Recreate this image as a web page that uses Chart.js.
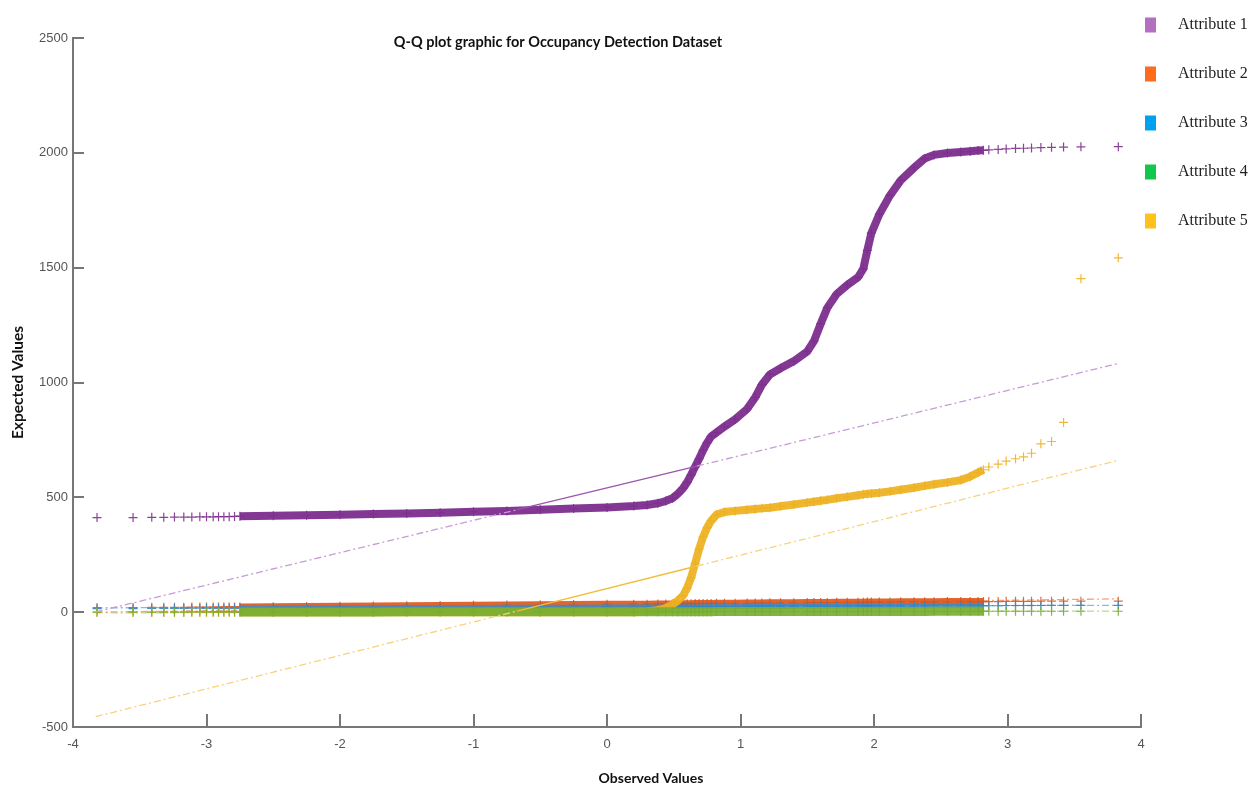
<!DOCTYPE html>
<html>
<head>
<meta charset="utf-8">
<title>Q-Q plot graphic for Occupancy Detection Dataset</title>
<script src="https://cdn.jsdelivr.net/npm/chart.js@4.4.1/dist/chart.umd.min.js"></script>
<style>
  html, body { margin: 0; padding: 0; background: #fff; }
  #wrap { width: 1250px; height: 787px; }
</style>
</head>
<body>
<div id="wrap"><canvas id="qq"></canvas></div>
<script>
// theoretical normal quantiles, shared by all attributes (same number of rows)
const normalQ = [
  -3.82, -3.55, -3.41, -3.32, -3.24, -3.17, -3.11, -3.05, -3.00, -2.95, -2.91, -2.87, -2.83, -2.79,
  -2.75, -2.5, -2.25, -2.0, -1.75, -1.5, -1.25, -1.0, -0.75, -0.5, -0.25, 0,
  0.2, 0.3, 0.38, 0.44, 0.49, 0.53, 0.57, 0.6, 0.63, 0.66,
  0.69, 0.72, 0.75, 0.78, 0.82, 0.88, 0.96, 1.05, 1.11, 1.16,
  1.22, 1.3, 1.4, 1.5, 1.55, 1.6, 1.65, 1.72, 1.8, 1.88,
  1.92, 1.95, 1.98, 2.04, 2.12, 2.2, 2.3, 2.38, 2.45, 2.55,
  2.65, 2.72, 2.78, 2.82,
  2.86, 2.93, 2.99, 3.06, 3.12, 3.18, 3.25, 3.33, 3.42, 3.55, 3.83
];

// sample quantiles per attribute
const attr1 = [
  412, 412, 413, 413, 414, 414, 414, 415, 415, 415, 416, 416, 416, 417,
  418, 420, 422, 424, 427, 430, 433, 437, 441, 446, 451, 456,
  462, 467, 474, 484, 496, 515, 540, 565, 598, 633,
  668, 705, 738, 765, 782, 808, 840, 885, 935, 990,
  1035, 1062, 1093, 1135, 1180, 1255, 1325, 1385, 1425, 1458,
  1495, 1575, 1650, 1733, 1815, 1880, 1935, 1975, 1991, 1999,
  2004, 2007, 2010, 2011,
  2013, 2015, 2017, 2019, 2020, 2021, 2023, 2024, 2025, 2026, 2027
];
const attr2 = [
  20, 20, 21, 21, 21, 21, 22, 22, 22, 22, 22, 23, 23, 23,
  23, 24, 25, 26, 27, 28, 29, 30, 31, 32, 33, 34,
  35, 35, 36, 36, 36, 37, 37, 37, 37, 38,
  38, 38, 38, 38, 39, 39, 39, 40, 40, 40,
  41, 41, 41, 42, 42, 42, 42, 43, 43, 43,
  43, 44, 44, 44, 44, 45, 45, 45, 45, 46,
  46, 46, 46, 46,
  46, 46, 47, 47, 47, 47, 48, 48, 48, 48, 48
];
const attr3 = [
  15, 15, 16, 16, 16, 16, 17, 17, 17, 17, 17, 17, 18, 18,
  18, 18, 19, 19, 19, 20, 20, 20, 21, 21, 21, 22,
  22, 22, 22, 22, 23, 23, 23, 23, 23, 23,
  23, 23, 24, 24, 24, 24, 24, 25, 25, 25,
  25, 25, 25, 26, 26, 26, 26, 26, 26, 27,
  27, 27, 27, 27, 27, 27, 27, 28, 28, 28,
  28, 28, 28, 28,
  28, 28, 29, 29, 29, 29, 29, 30, 30, 30, 30
];
const attr4 = [
  0, 0, 0, 0, 0, 0, 1, 1, 1, 1, 1, 1, 1, 1,
  1, 1, 1, 1, 1, 2, 2, 2, 2, 2, 2, 2,
  2, 2, 2, 2, 2, 2, 2, 2, 2, 2,
  2, 2, 2, 2, 3, 3, 3, 3, 3, 3,
  3, 3, 3, 3, 3, 3, 3, 3, 3, 3,
  3, 3, 3, 3, 3, 3, 3, 3, 4, 4,
  4, 4, 4, 4,
  4, 4, 4, 4, 4, 4, 4, 4, 4, 4, 4
];
const attr5 = [
  0, 0, 0, 0, 0, 0, 0, 0, 0, 0, 0, 0, 0, 0,
  0, 0, 0, 0, 0, 0, 0, 0, 0, 0, 0, 0,
  0, 3, 8, 18, 33, 50, 72, 105, 150, 212,
  275, 328, 368, 398, 424, 436, 441, 446, 449, 452,
  455, 461, 469, 477, 481, 485, 489, 496, 502, 509,
  513, 515, 517, 520, 526, 533, 542, 550, 557, 565,
  575, 590, 608, 620,
  632, 645, 658, 668, 676, 692, 733, 743, 826, 1452, 1543
];

// reference lines: min, first quartile, third quartile, max of the normal axis
const fitQ = [-3.83, -0.674, 0.674, 3.83];
const fit1 = [1, 446, 636, 1083];
const fit2 = [0, 24, 34, 58];
const fit3 = [19, 23.5, 25.5, 30];
const fit4 = [-3, 0, 2, 5];
const fit5 = [-455, 5, 201, 661];

const attrNames = ['Attribute 1', 'Attribute 2', 'Attribute 3', 'Attribute 4', 'Attribute 5'];
const legendColors = ['#B36FC0', '#FF6B1C', '#00A2F0', '#12C84A', '#FDC31C'];

const yTicks = [-500, 0, 500, 1000, 1500, 2000, 2500];
const xTicks = [-4, -3, -2, -1, 0, 1, 2, 3, 4];

// points between these indexes are packed so tightly they read as a solid band
const denseFrom = 14, denseTo = 69;

function toPoints(xs, ys) {
  return xs.map((x, i) => ({ x: x, y: ys[i] }));
}

function qqSet(ys, mark, band, width) {
  return {
    data: toPoints(normalQ, ys),
    showLine: true,
    borderColor: band,
    borderWidth: width,
    segment: {
      borderColor: c => (c.p0DataIndex >= denseFrom && c.p1DataIndex <= denseTo) ? band : 'transparent'
    },
    pointStyle: 'cross',
    pointRadius: 4.5,
    pointHoverRadius: 4.5,
    pointBorderColor: mark,
    pointBorderWidth: 1.2
  };
}

function fitSet(ys, dashColor, solidColor) {
  return {
    data: toPoints(fitQ, ys),
    showLine: true,
    pointRadius: 0,
    pointHoverRadius: 0,
    borderWidth: 1.3,
    borderColor: dashColor,
    borderDash: [7, 3, 2, 3],
    segment: {
      borderDash: c => c.p0DataIndex === 1 ? [] : undefined,
      borderColor: c => c.p0DataIndex === 1 ? solidColor : undefined
    }
  };
}

// title, x axis label and legend
const annotations = {
  id: 'annotations',
  afterDraw(chart) {
    const ctx = chart.ctx;
    const area = chart.chartArea;
    ctx.save();
    ctx.fillStyle = '#111';
    ctx.textBaseline = 'middle';
    ctx.textAlign = 'center';
    ctx.font = 'bold 14.5px Lato';
    ctx.fillText('Q-Q plot graphic for Occupancy Detection Dataset', 558, 42);
    ctx.font = 'bold 14px Lato';
    ctx.fillText('Observed Values', 651, 778);

    ctx.textAlign = 'left';
    ctx.font = '16px "Liberation Serif", "DejaVu Serif", serif';
    attrNames.forEach((name, i) => {
      const cy = 25 + i * 49;
      ctx.fillStyle = legendColors[i];
      ctx.fillRect(area.right + 4, cy - 7.5, 11, 15);
      ctx.fillStyle = '#222';
      ctx.fillText(name, area.right + 37, cy);
    });
    ctx.restore();
  }
};

const tickFont = { family: '"Liberation Sans", Arial, sans-serif', size: 13 };

new Chart(document.getElementById('qq'), {
  type: 'scatter',
  data: {
    datasets: [
      fitSet(fit1, '#C89BD8', '#9A56AE'),
      fitSet(fit5, '#F8D27C', '#F1BD3A'),
      qqSet(attr1, 'rgba(126,47,142,0.9)', 'rgba(122,42,140,0.93)', 8),
      qqSet(attr4, 'rgba(119,172,48,0.9)', 'rgba(120,174,50,0.93)', 9),
      qqSet(attr5, 'rgba(237,177,32,0.9)', 'rgba(238,178,32,0.93)', 8),
      qqSet(attr3, 'rgba(47,134,198,0.9)', 'rgba(60,140,200,0.9)', 5),
      qqSet(attr2, 'rgba(217,83,25,0.85)', 'rgba(222,84,24,0.9)', 7),
      fitSet(fit2, '#F2A27E', '#E07A4C'),
      fitSet(fit3, '#82BDE6', '#4F9BD2'),
      fitSet(fit4, '#B9D98E', '#93BF5A')
    ]
  },
  options: {
    responsive: true,
    maintainAspectRatio: false,
    animation: false,
    layout: { padding: { top: 38, right: 109, bottom: 0, left: 0 } },
    plugins: {
      legend: { display: false },
      tooltip: { enabled: false },
      title: { display: false }
    },
    scales: {
      x: {
        type: 'linear',
        min: -4,
        max: 4,
        afterFit: scale => { scale.height = 60; },
        afterBuildTicks: scale => { scale.ticks = xTicks.map(v => ({ value: v })); },
        border: { display: true, color: '#777', width: 2 },
        grid: { display: true, drawOnChartArea: false, drawTicks: true, tickLength: -13, color: '#777', lineWidth: 2 },
        ticks: { color: '#555', font: tickFont, padding: 23, maxRotation: 0, callback: v => String(v) }
      },
      y: {
        type: 'linear',
        min: -500,
        max: 2500,
        afterFit: scale => { scale.width = 73; },
        afterBuildTicks: scale => { scale.ticks = yTicks.map(v => ({ value: v })); },
        border: { display: true, color: '#777', width: 2 },
        grid: { display: true, drawOnChartArea: false, drawTicks: true, tickLength: -11, color: '#777', lineWidth: 2 },
        ticks: { color: '#555', font: tickFont, padding: 16, callback: v => String(v) },
        title: {
          display: true,
          text: 'Expected Values',
          color: '#111',
          font: { family: 'Lato', weight: 'bold', size: 15.5 },
          padding: { top: 9, bottom: 0 }
        }
      }
    }
  },
  plugins: [annotations]
});
</script>
</body>
</html>
